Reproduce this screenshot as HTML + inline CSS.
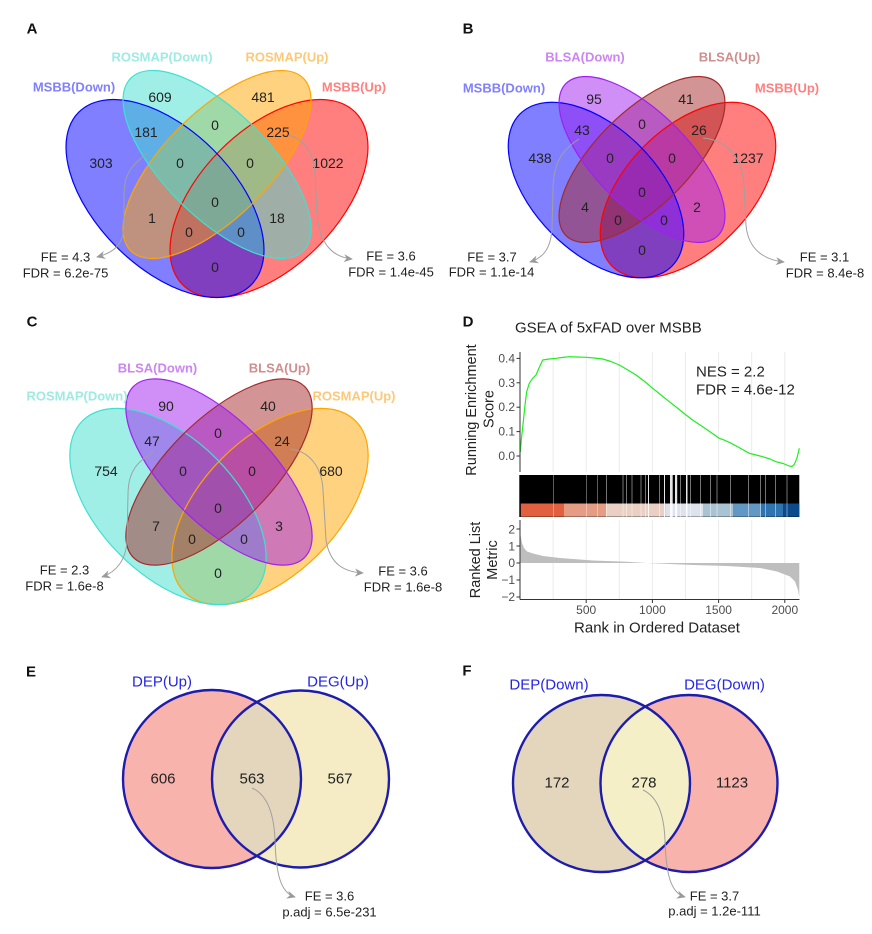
<!DOCTYPE html>
<html><head><meta charset="utf-8"><style>
html,body{margin:0;padding:0;background:#fff;}
svg{display:block;}
text{font-family:"Liberation Sans",Arial,sans-serif;}
</style></head><body>
<svg width="872" height="934" viewBox="0 0 872 934" xmlns="http://www.w3.org/2000/svg">
<defs>
<marker id="ah" viewBox="0 0 10 10" refX="9" refY="5" markerWidth="9" markerHeight="9" markerUnits="userSpaceOnUse" orient="auto">
<path d="M0,0.5 L10,5 L0,9.5 L3,5 z" fill="#9a9a9a"/></marker>
<clipPath id="cE"><circle cx="212" cy="779" r="89"/></clipPath>
<clipPath id="cF"><circle cx="601.5" cy="783.5" r="88.5"/></clipPath>
</defs>
<rect width="872" height="934" fill="#fff"/>

<!-- panel letters -->
<g font-weight="bold" font-size="15" text-anchor="middle" dominant-baseline="central" fill="#111">
<text x="32" y="29">A</text><text x="468" y="29">B</text>
<text x="32" y="322">C</text><text x="468" y="322">D</text>
<text x="31" y="672">E</text><text x="467" y="671">F</text>
</g>

<!-- ===== Panel A ===== -->
<g transform="translate(217,0)">
<ellipse cx="52" cy="198.5" rx="122" ry="68.6" transform="rotate(-45 52 198.5)" fill="#ff0000" fill-opacity=".5"/>
<ellipse cx="-52" cy="198.5" rx="122" ry="68.6" transform="rotate(45 -52 198.5)" fill="#0000ff" fill-opacity=".5"/>
<ellipse cx="0" cy="164.5" rx="122" ry="52.7" transform="rotate(-45 0 164.5)" fill="#ffa500" fill-opacity=".5"/>
<ellipse cx="0" cy="164.5" rx="122" ry="52.7" transform="rotate(45 0 164.5)" fill="#40e0d0" fill-opacity=".5"/>
<g fill="none" stroke-width="1.2">
<ellipse cx="52" cy="198.5" rx="122" ry="68.6" transform="rotate(-45 52 198.5)" stroke="#ff0000"/>
<ellipse cx="-52" cy="198.5" rx="122" ry="68.6" transform="rotate(45 -52 198.5)" stroke="#0000ff"/>
<ellipse cx="0" cy="164.5" rx="122" ry="52.7" transform="rotate(-45 0 164.5)" stroke="#ffa500"/>
<ellipse cx="0" cy="164.5" rx="122" ry="52.7" transform="rotate(45 0 164.5)" stroke="#40e0d0"/>
</g>
</g>
<g font-size="14" text-anchor="middle" dominant-baseline="central" fill="#222">
<text x="160" y="97">609</text><text x="263" y="97">481</text>
<text x="146" y="132">181</text><text x="215" y="125">0</text><text x="278" y="132">225</text>
<text x="101" y="163">303</text><text x="180" y="163">0</text><text x="250" y="163">0</text><text x="328" y="163">1022</text>
<text x="215" y="202">0</text><text x="152" y="218">1</text><text x="277" y="218">18</text>
<text x="189" y="232">0</text><text x="241" y="232">0</text><text x="215" y="267">0</text>
</g>
<g font-size="13" font-weight="bold" text-anchor="middle" dominant-baseline="central">
<text x="162" y="57" fill="#9debe3">ROSMAP(Down)</text>
<text x="287" y="57" fill="#fdc978">ROSMAP(Up)</text>
<text x="74" y="87" fill="#8080ff">MSBB(Down)</text>
<text x="354" y="87" fill="#ff8080">MSBB(Up)</text>
</g>
<g fill="none" stroke="#a0a0a0" stroke-width="1" marker-end="url(#ah)">
<path d="M148,153 C135,163 124,170 124,195 L124,225 C124,246 112,253 97,257"/>
<path d="M288,135 C302,138 314,152 315,172 L317,215 C320,245 333,257 352,259"/>
</g>
<g font-size="13" text-anchor="middle" dominant-baseline="central" fill="#222">
<text x="65.5" y="257">FE = 4.3</text><text x="65.5" y="273">FDR = 6.2e-75</text>
<text x="391" y="256">FE = 3.6</text><text x="391" y="272">FDR = 1.4e-45</text>
</g>

<!-- ===== Panel B ===== -->
<g transform="translate(642,0)">
<ellipse cx="46" cy="190" rx="107.5" ry="62" transform="rotate(-45 46 190)" fill="#ff0000" fill-opacity=".5"/>
<ellipse cx="-46" cy="190" rx="107.5" ry="62" transform="rotate(45 -46 190)" fill="#0000ff" fill-opacity=".5"/>
<ellipse cx="0" cy="159.5" rx="107.5" ry="47" transform="rotate(-45 0 159.5)" fill="#a52a2a" fill-opacity=".5"/>
<ellipse cx="0" cy="159.5" rx="107.5" ry="47" transform="rotate(45 0 159.5)" fill="#a020f0" fill-opacity=".5"/>
<g fill="none" stroke-width="1.2">
<ellipse cx="46" cy="190" rx="107.5" ry="62" transform="rotate(-45 46 190)" stroke="#ff0000"/>
<ellipse cx="-46" cy="190" rx="107.5" ry="62" transform="rotate(45 -46 190)" stroke="#0000ff"/>
<ellipse cx="0" cy="159.5" rx="107.5" ry="47" transform="rotate(-45 0 159.5)" stroke="#a52a2a"/>
<ellipse cx="0" cy="159.5" rx="107.5" ry="47" transform="rotate(45 0 159.5)" stroke="#a020f0"/>
</g>
</g>
<g font-size="14" text-anchor="middle" dominant-baseline="central" fill="#222">
<text x="594" y="99">95</text><text x="686" y="99">41</text>
<text x="582" y="130">43</text><text x="642" y="124">0</text><text x="699" y="130">26</text>
<text x="540" y="158">438</text><text x="610" y="158">0</text><text x="672" y="158">0</text><text x="748" y="158">1237</text>
<text x="642" y="192">0</text><text x="585" y="207">4</text><text x="697" y="207">2</text>
<text x="618" y="220">0</text><text x="664" y="220">0</text><text x="642" y="250">0</text>
</g>
<g font-size="13" font-weight="bold" text-anchor="middle" dominant-baseline="central">
<text x="585" y="57" fill="#cc85f2">BLSA(Down)</text>
<text x="729.5" y="57" fill="#cf8f8f">BLSA(Up)</text>
<text x="504" y="88" fill="#8080ff">MSBB(Down)</text>
<text x="787" y="88" fill="#ff8080">MSBB(Up)</text>
</g>
<g fill="none" stroke="#a0a0a0" stroke-width="1" marker-end="url(#ah)">
<path d="M579,139 C565,148 553,160 553,190 L552,228 C551,250 542,258 530,262"/>
<path d="M703,138 C725,140 742,155 744,185 L746,225 C748,250 765,260 784,262"/>
</g>
<g font-size="13" text-anchor="middle" dominant-baseline="central" fill="#222">
<text x="492" y="257">FE = 3.7</text><text x="491.5" y="272">FDR = 1.1e-14</text>
<text x="824.5" y="257">FE = 3.1</text><text x="825" y="273">FDR = 8.4e-8</text>
</g>

<!-- ===== Panel C ===== -->
<g transform="translate(219,0)">
<ellipse cx="51" cy="506.5" rx="121" ry="68" transform="rotate(-45 51 506.5)" fill="#ffa500" fill-opacity=".5"/>
<ellipse cx="-51" cy="506.5" rx="121" ry="68" transform="rotate(45 -51 506.5)" fill="#40e0d0" fill-opacity=".5"/>
<ellipse cx="0" cy="472" rx="121" ry="52" transform="rotate(-45 0 472)" fill="#a52a2a" fill-opacity=".5"/>
<ellipse cx="0" cy="472" rx="121" ry="52" transform="rotate(45 0 472)" fill="#a020f0" fill-opacity=".5"/>
<g fill="none" stroke-width="1.2">
<ellipse cx="51" cy="506.5" rx="121" ry="68" transform="rotate(-45 51 506.5)" stroke="#ffa500"/>
<ellipse cx="-51" cy="506.5" rx="121" ry="68" transform="rotate(45 -51 506.5)" stroke="#40e0d0"/>
<ellipse cx="0" cy="472" rx="121" ry="52" transform="rotate(-45 0 472)" stroke="#a52a2a"/>
<ellipse cx="0" cy="472" rx="121" ry="52" transform="rotate(45 0 472)" stroke="#a020f0"/>
</g>
</g>
<g font-size="14" text-anchor="middle" dominant-baseline="central" fill="#222">
<text x="166" y="406">90</text><text x="268" y="406">40</text>
<text x="152" y="441">47</text><text x="218" y="433">0</text><text x="282" y="441">24</text>
<text x="106" y="471">754</text><text x="183" y="471">0</text><text x="252" y="471">0</text><text x="331" y="471">680</text>
<text x="218" y="508">0</text><text x="156" y="526">7</text><text x="279" y="526">3</text>
<text x="192" y="539">0</text><text x="244" y="539">0</text><text x="218" y="573">0</text>
</g>
<g font-size="13" font-weight="bold" text-anchor="middle" dominant-baseline="central">
<text x="157.5" y="368" fill="#cc85f2">BLSA(Down)</text>
<text x="279.5" y="368" fill="#cf8f8f">BLSA(Up)</text>
<text x="77" y="396" fill="#9debe3">ROSMAP(Down)</text>
<text x="354" y="396" fill="#fdc978">ROSMAP(Up)</text>
</g>
<g fill="none" stroke="#a0a0a0" stroke-width="1" marker-end="url(#ah)">
<path d="M153,452 C138,462 128,470 128,495 L127,538 C127,560 116,572 102,577"/>
<path d="M290,449 C310,451 322,468 323,490 L326,540 C330,565 345,572 363,573"/>
</g>
<g font-size="13" text-anchor="middle" dominant-baseline="central" fill="#222">
<text x="64.5" y="570">FE = 2.3</text><text x="64.5" y="586">FDR = 1.6e-8</text>
<text x="403" y="571">FE = 3.6</text><text x="403" y="587">FDR = 1.6e-8</text>
</g>

<!-- ===== Panel D ===== -->
<text x="515" y="328" font-size="15" dominant-baseline="central" fill="#222">GSEA of 5xFAD over MSBB</text>
<!-- grid lines -->
<g stroke="#ebebeb" stroke-width="1">
<line x1="553.1" y1="352" x2="553.1" y2="472"/><line x1="586.2" y1="352" x2="586.2" y2="472"/>
<line x1="619.3" y1="352" x2="619.3" y2="472"/><line x1="652.4" y1="352" x2="652.4" y2="472"/>
<line x1="685.5" y1="352" x2="685.5" y2="472"/><line x1="718.6" y1="352" x2="718.6" y2="472"/>
<line x1="751.7" y1="352" x2="751.7" y2="472"/><line x1="784.8" y1="352" x2="784.8" y2="472"/>
<line x1="553.1" y1="520" x2="553.1" y2="599"/><line x1="586.2" y1="520" x2="586.2" y2="599"/>
<line x1="619.3" y1="520" x2="619.3" y2="599"/><line x1="652.4" y1="520" x2="652.4" y2="599"/>
<line x1="685.5" y1="520" x2="685.5" y2="599"/><line x1="718.6" y1="520" x2="718.6" y2="599"/>
<line x1="751.7" y1="520" x2="751.7" y2="599"/><line x1="784.8" y1="520" x2="784.8" y2="599"/>
</g>
<!-- ES curve -->
<polyline fill="none" stroke="#1fee1f" stroke-width="1.2" stroke-linejoin="round" points="520.3,452 521.5,438 523.3,421.7 525,405 526.7,391.7 529.3,383.3 532.7,378.3 536,375 539,368 542.7,360 549.3,359 556,358.3 562,357.5 569.3,356.7 577,357 586,357.3 594,358 602.7,359 611,361.5 619.3,365 627,369.5 636,375 644,381 652.7,388.3 661,395 669.3,401.7 678,408.5 686,415 694,421 702.7,426.7 711,432.5 719.3,438.3 724,440 729.3,442.3 739,447.5 749.3,453.3 756,455 762.7,456.7 770,459 776,461.7 783,463.5 789.3,466 792,466.5 794.3,464.3 797,458 799.3,448.3"/>
<g font-size="15" fill="#222" dominant-baseline="central">
<text x="696" y="372">NES = 2.2</text>
<text x="696" y="390">FDR = 4.6e-12</text>
</g>
<!-- top axis -->
<line x1="520" y1="352" x2="520" y2="472" stroke="#333" stroke-width="1"/>
<g stroke="#333" stroke-width="1">
<line x1="516.5" y1="358.4" x2="520" y2="358.4"/><line x1="516.5" y1="382.8" x2="520" y2="382.8"/>
<line x1="516.5" y1="407.2" x2="520" y2="407.2"/><line x1="516.5" y1="431.6" x2="520" y2="431.6"/>
<line x1="516.5" y1="456" x2="520" y2="456"/>
</g>
<g font-size="12" fill="#4d4d4d" text-anchor="end" dominant-baseline="central">
<text x="515" y="358.4">0.4</text><text x="515" y="382.8">0.3</text><text x="515" y="407.2">0.2</text>
<text x="515" y="431.6">0.1</text><text x="515" y="456">0.0</text>
</g>
<g font-size="14.5" fill="#222" text-anchor="middle" dominant-baseline="central">
<text transform="translate(472,410) rotate(-90)">Running Enrichment</text>
<text transform="translate(489.5,409) rotate(-90)">Score</text>
<text transform="translate(476,560) rotate(-90)">Ranked List</text>
<text transform="translate(493,560) rotate(-90)">Metric</text>
</g>
<!-- barcode -->
<rect x="519.3" y="475" width="280" height="42" fill="#000"/>
<!-- colour bar -->
<rect x="520.8" y="503.5" width="43.2" height="13.2" fill="#e1603f"/>
<rect x="564" y="503.5" width="42" height="13.2" fill="#e59c84"/>
<rect x="606" y="503.5" width="60" height="13.2" fill="#e9cfc4"/>
<rect x="666" y="503.5" width="37" height="13.2" fill="#dde2ec"/>
<rect x="703" y="503.5" width="30" height="13.2" fill="#a9c3d3"/>
<rect x="733" y="503.5" width="28" height="13.2" fill="#6199c4"/>
<rect x="761" y="503.5" width="22" height="13.2" fill="#2f73b1"/>
<rect x="783" y="503.5" width="16.3" height="13.2" fill="#0b4a8b"/>
<!-- gaps: bright -->
<g fill="#fff" fill-opacity=".9">
<rect x="648" y="475" width="1" height="42"/>
<rect x="664" y="475" width="1" height="42"/>
<rect x="670" y="475" width="2.7" height="42"/>
<rect x="675" y="475" width="2.2" height="42"/>
<rect x="686" y="475" width="1.5" height="42"/>
</g>
<!-- gaps: faint -->
<g fill="#fff" fill-opacity=".45">
<rect x="553" y="475" width="0.8" height="42"/><rect x="586" y="475" width="0.8" height="42"/>
<rect x="597" y="475" width="0.8" height="42"/>
<rect x="606" y="475" width="1" height="42"/><rect x="622.5" y="475" width="1" height="42"/>
<rect x="626" y="475" width="1" height="42"/><rect x="631.5" y="475" width="1" height="42"/>
<rect x="640.5" y="475" width="1" height="42"/><rect x="645" y="475" width="1" height="42"/>
<rect x="659" y="475" width="1" height="42"/><rect x="680" y="475" width="1" height="42"/>
<rect x="690" y="475" width="1" height="42"/><rect x="700" y="475" width="1" height="42"/>
<rect x="710" y="475" width="1" height="42"/><rect x="716.5" y="475" width="1" height="42"/>
<rect x="730" y="475" width="1" height="42"/><rect x="748" y="475" width="1" height="42"/>
<rect x="760" y="475" width="1" height="42"/><rect x="765" y="475" width="1" height="42"/>
<rect x="775" y="475" width="1" height="42"/><rect x="786.5" y="475" width="1" height="42"/>
</g>
<!-- ranked metric -->
<path d="M520.5,563 L520.5,535 L522,543 L524,548 L527,551.5 L533,553.5 L543,556 L560,558 L593,560.5 L627,561.8 L647,563 L693,565 L727,566 L760,568 L777,571.5 L790,576.5 L795,581.5 L798,590 L799.3,597 L799.3,563 Z" fill="#bebebe"/>
<line x1="520" y1="520" x2="520" y2="599.5" stroke="#333" stroke-width="1"/>
<line x1="520" y1="599.5" x2="799.5" y2="599.5" stroke="#333" stroke-width="1"/>
<g stroke="#333" stroke-width="1">
<line x1="516.5" y1="529" x2="520" y2="529"/><line x1="516.5" y1="546" x2="520" y2="546"/>
<line x1="516.5" y1="563" x2="520" y2="563"/><line x1="516.5" y1="580" x2="520" y2="580"/>
<line x1="516.5" y1="597" x2="520" y2="597"/>
<line x1="586.2" y1="599.5" x2="586.2" y2="603"/><line x1="652.4" y1="599.5" x2="652.4" y2="603"/>
<line x1="718.6" y1="599.5" x2="718.6" y2="603"/><line x1="784.8" y1="599.5" x2="784.8" y2="603"/>
</g>
<g font-size="12" fill="#4d4d4d" text-anchor="end" dominant-baseline="central">
<text x="515" y="529.5">2</text><text x="515" y="546.5">1</text><text x="515" y="563">0</text>
<text x="515" y="580">−1</text><text x="515" y="597">−2</text>
</g>
<g font-size="12" fill="#4d4d4d" text-anchor="middle" dominant-baseline="central">
<text x="586.2" y="610">500</text><text x="652.4" y="610">1000</text>
<text x="718.6" y="610">1500</text><text x="784.8" y="610">2000</text>
</g>
<text x="657" y="628" font-size="15" fill="#222" text-anchor="middle" dominant-baseline="central">Rank in Ordered Dataset</text>

<!-- ===== Panel E ===== -->
<circle cx="212" cy="779" r="89" fill="#f9b3ad"/>
<circle cx="300.5" cy="779" r="88.5" fill="#f5ecc6"/>
<circle cx="300.5" cy="779" r="88.5" fill="#e3d6bc" clip-path="url(#cE)"/>
<circle cx="212" cy="779" r="89" fill="none" stroke="#1c1cad" stroke-width="2.4"/>
<circle cx="300.5" cy="779" r="88.5" fill="none" stroke="#1c1cad" stroke-width="2.4"/>
<g font-size="15" text-anchor="middle" dominant-baseline="central">
<text x="162" y="682" fill="#2525e6">DEP(Up)</text><text x="338" y="682" fill="#2525e6">DEG(Up)</text>
<text x="163" y="779" fill="#222">606</text><text x="252" y="779" fill="#222">563</text><text x="340" y="779" fill="#222">567</text>
</g>
<path d="M252,788 C268,795 274,815 275,840 C276,875 281,893 295,897" fill="none" stroke="#a0a0a0" stroke-width="1" marker-end="url(#ah)"/>
<g font-size="13" text-anchor="middle" dominant-baseline="central" fill="#222">
<text x="329.5" y="896">FE = 3.6</text><text x="329.5" y="912">p.adj = 6.5e-231</text>
</g>

<!-- ===== Panel F ===== -->
<circle cx="601.5" cy="783.5" r="88.5" fill="#e3d6bc"/>
<circle cx="689" cy="783.5" r="88.5" fill="#f9b3ad"/>
<circle cx="689" cy="783.5" r="88.5" fill="#f5efc8" clip-path="url(#cF)"/>
<circle cx="601.5" cy="783.5" r="88.5" fill="none" stroke="#1c1cad" stroke-width="2.4"/>
<circle cx="689" cy="783.5" r="88.5" fill="none" stroke="#1c1cad" stroke-width="2.4"/>
<g font-size="15" text-anchor="middle" dominant-baseline="central">
<text x="549" y="685" fill="#2525e6">DEP(Down)</text><text x="724.5" y="685" fill="#2525e6">DEG(Down)</text>
<text x="557" y="783" fill="#222">172</text><text x="644" y="783" fill="#222">278</text><text x="732" y="783" fill="#222">1123</text>
</g>
<path d="M643,790 C658,797 664,815 665,840 C666,875 671,893 685,897" fill="none" stroke="#a0a0a0" stroke-width="1" marker-end="url(#ah)"/>
<g font-size="13" text-anchor="middle" dominant-baseline="central" fill="#222">
<text x="714.5" y="896">FE = 3.7</text><text x="714.5" y="911">p.adj = 1.2e-111</text>
</g>
</svg>
</body></html>
